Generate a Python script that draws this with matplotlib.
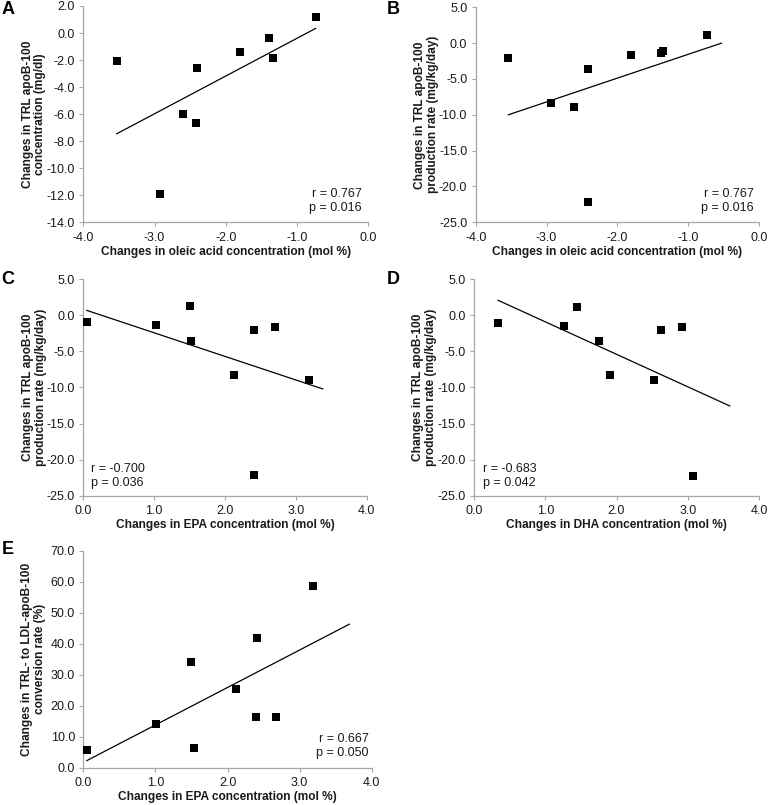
import matplotlib
matplotlib.use("Agg")
import matplotlib.pyplot as plt
from matplotlib.ticker import FormatStrFormatter, MultipleLocator

plt.rcParams['font.family'] = ['Liberation Sans', 'DejaVu Sans']
plt.rcParams['axes.unicode_minus'] = False

# data
A_x = [-3.53, -2.92, -2.60, -2.42, -2.40, -1.80, -1.39, -1.34, -0.74]
A_y = [-2.05, -11.94, -6.00, -6.63, -2.62, -1.43, -0.40, -1.88, 1.15]
A_fit_x = [-3.53, -0.74]
A_fit_y = [-7.45, 0.34]

B_x = [-3.54, -2.93, -2.61, -2.42, -2.41, -1.81, -1.39, -1.35, -0.74]
B_y = [-2.04, -8.33, -8.94, -22.1, -3.57, -1.67, -1.44, -1.06, 1.20]
B_fit_x = [-3.54, -0.53]
B_fit_y = [-10.0, 0.0]

C_x = [0.05, 1.02, 1.50, 1.52, 2.13, 2.41, 2.41, 2.70, 3.18]
C_y = [-0.97, -1.35, 1.25, -3.50, -8.24, -2.08, -22.1, -1.62, -8.94]
C_fit_x = [0.05, 3.38]
C_fit_y = [0.69, -10.2]

D_x = [0.34, 1.27, 1.45, 1.75, 1.91, 2.52, 2.63, 2.92, 3.08]
D_y = [-1.07, -1.44, 1.19, -3.57, -8.33, -8.99, -2.04, -1.67, -22.2]
D_fit_x = [0.34, 3.59]
D_fit_y = [2.08, -12.56]

E_x = [0.05, 1.01, 1.49, 1.53, 2.12, 2.40, 2.41, 2.67, 3.19]
E_y = [5.7, 14.0, 34.0, 6.2, 25.4, 16.5, 41.8, 16.5, 58.6]
E_fit_x = [0.05, 3.69]
E_fit_y = [2.3, 46.3]

ylab_conc = "Changes in TRL apoB-100\nconcentration (mg/dl)"
ylab_prod = "Changes in TRL apoB-100\nproduction rate (mg/kg/day)"
ylab_conv = "Changes in TRL- to LDL-apoB-100\nconversion rate (%)"
xlab_oleic = "Changes in oleic acid concentration (mol %)"
xlab_epa = "Changes in EPA concentration (mol %)"
xlab_dha = "Changes in DHA concentration (mol %)"

W, H = 768, 805
fig = plt.figure(figsize=(W / 100, H / 100), dpi=100)


def px_axes(left, right, top, bottom):
    return fig.add_axes([left / W, 1 - bottom / H, (right - left) / W, (bottom - top) / H])


def panel(ax, x, y, fx, fy, xlim, ylim, ystep, xlab, ylab, letter, stats, stats_pos, ha):
    ax.plot(fx, fy, color='black', lw=0.9, zorder=2)
    ax.scatter(x, y, marker='s', s=34, color='black', zorder=3, linewidths=0)
    ax.set_xlim(*xlim)
    ax.set_ylim(*ylim)
    ax.xaxis.set_major_locator(MultipleLocator(1.0))
    ax.yaxis.set_major_locator(MultipleLocator(ystep))
    ax.xaxis.set_major_formatter(FormatStrFormatter('%.1f'))
    ax.yaxis.set_major_formatter(FormatStrFormatter('%.1f'))
    for s in ['top', 'right']:
        ax.spines[s].set_visible(False)
    for s in ['left', 'bottom']:
        ax.spines[s].set_color('#a6a6a6')
        ax.spines[s].set_linewidth(0.9)
    ax.tick_params(axis='both', colors='#a6a6a6', labelcolor='#1a1a1a',
                   labelsize=9, length=3, width=0.8, direction='out')
    ax.tick_params(axis='x', pad=4)
    ax.tick_params(axis='y', pad=3)
    ax.text(0.5, -0.137, xlab, transform=ax.transAxes, ha='center', va='center',
            fontsize=8.6, fontweight='bold', color='#1a1a1a')
    ax.text(-0.173, 0.5, ylab, transform=ax.transAxes, rotation=90, ha='center',
            va='center', multialignment='center', fontsize=8.6, fontweight='bold',
            color='#1a1a1a', linespacing=1.1)
    ax.text(stats_pos[0], stats_pos[1], stats, transform=ax.transAxes, ha=ha,
            va='center', multialignment=ha, fontsize=9, color='#1a1a1a', linespacing=1.25)
    fig.text(letter[1] / W, 1 - letter[2] / H, letter[0], fontsize=13, fontweight='bold',
             ha='center', va='center')


axA = px_axes(83.3, 368.3, 6.0, 222.3)
panel(axA, A_x, A_y, A_fit_x, A_fit_y, (-4, 0), (-14, 2), 2.0, xlab_oleic, ylab_conc,
      ('A', 8, 9), "r = 0.767\np = 0.016", (0.977, 0.097), 'right')

axB = px_axes(475.7, 759.0, 7.3, 222.3)
panel(axB, B_x, B_y, B_fit_x, B_fit_y, (-4, 0), (-25, 5), 5.0, xlab_oleic, ylab_prod,
      ('B', 393, 9), "r = 0.767\np = 0.016", (0.982, 0.098), 'right')

axC = px_axes(83.3, 366.7, 279.3, 495.7)
panel(axC, C_x, C_y, C_fit_x, C_fit_y, (0, 4), (-25, 5), 5.0, xlab_epa, ylab_prod,
      ('C', 8, 279), "r = -0.700\np = 0.036", (0.026, 0.091), 'left')

axD = px_axes(474.0, 759.0, 279.3, 495.7)
panel(axD, D_x, D_y, D_fit_x, D_fit_y, (0, 4), (-25, 5), 5.0, xlab_dha, ylab_prod,
      ('D', 393, 279), "r = -0.683\np = 0.042", (0.032, 0.091), 'left')

axE = px_axes(83.3, 371.7, 550.7, 767.7)
panel(axE, E_x, E_y, E_fit_x, E_fit_y, (0, 4), (0, 70), 10.0, xlab_epa, ylab_conv,
      ('E', 8, 550), "r = 0.667\np = 0.050", (0.989, 0.100), 'right')

fig.savefig("out.png", dpi=100)
